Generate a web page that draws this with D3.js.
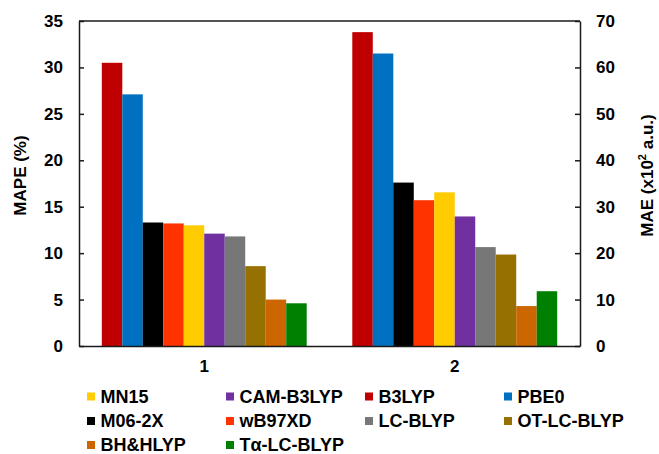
<!DOCTYPE html>
<html>
<head>
<meta charset="utf-8">
<script src="https://cdn.jsdelivr.net/npm/d3@7"></script>
<style>
  html, body { margin: 0; padding: 0; background: #fff; }
  svg text { font-family: "Liberation Sans", Arial, sans-serif; font-weight: bold; fill: #000; }
</style>
</head>
<body>
<svg id="chart" width="659" height="454"></svg>
<script>
// Functionals in bar order within each group
const methods = ["B3LYP", "PBE0", "M06-2X", "wB97XD", "MN15", "CAM-B3LYP", "LC-BLYP", "OT-LC-BLYP", "BH&HLYP", "Tα-LC-BLYP"];
const colors  = ["#C00000", "#0070C0", "#000000", "#FF3300", "#FFCC00", "#7030A0", "#777777", "#967000", "#CC6600", "#008000"];
// Group 1: MAPE (%) on the left axis; group 2: MAE (x10^2 a.u.) on the right axis
const groups = ["1", "2"];
const mape = [30.5, 27.1, 13.3, 13.2, 13.0, 12.1, 11.8, 8.6, 5.0, 4.6];
const mae  = [67.6, 63.0, 35.2, 31.4, 33.1, 27.9, 21.3, 19.7, 8.6, 11.8];
const leftTicks  = [0, 5, 10, 15, 20, 25, 30, 35];
const rightTicks = [0, 10, 20, 30, 40, 50, 60, 70];
// Legend order
const legendOrder = ["MN15", "CAM-B3LYP", "B3LYP", "PBE0", "M06-2X", "wB97XD", "LC-BLYP", "OT-LC-BLYP", "BH&HLYP", "Tα-LC-BLYP"];

const svg = d3.select("#chart");
const plot = { left: 79, right: 580, top: 21, bottom: 346 };

const x0 = d3.scaleBand().domain(groups).range([plot.left, plot.right]).padding(0);
const clusterFrac = 0.818;
const x1 = d3.scaleBand().domain(methods).range([0, x0.bandwidth() * clusterFrac]).padding(0);
const yL = d3.scaleLinear().domain([0, 35]).range([plot.bottom, plot.top]);
const yR = d3.scaleLinear().domain([0, 70]).range([plot.bottom, plot.top]);

const series = [
  { group: "1", values: mape, y: yL },
  { group: "2", values: mae,  y: yR }
];

// Bars
series.forEach(s => {
  const off = x0(s.group) + (x0.bandwidth() * (1 - clusterFrac)) / 2;
  svg.append("g").selectAll("rect")
    .data(methods.map((m, i) => ({ m, v: s.values[i], c: colors[i] })))
    .join("rect")
    .attr("x", d => off + x1(d.m))
    .attr("y", d => s.y(d.v))
    .attr("width", x1.bandwidth())
    .attr("height", d => s.y(0) - s.y(d.v))
    .attr("fill", d => d.c);
});

// Frame
const frame = svg.append("g").attr("stroke", "#1a1a1a").attr("stroke-width", 1.5).attr("fill", "none");
frame.append("line").attr("x1", plot.left).attr("x2", plot.right).attr("y1", plot.top).attr("y2", plot.top);

// Left axis (ticks inside)
const axL = svg.append("g").attr("transform", `translate(${plot.left},0)`)
  .call(d3.axisLeft(yL).tickValues(leftTicks).tickSizeInner(-5).tickSizeOuter(0).tickPadding(16));
// Right axis (ticks inside)
const axR = svg.append("g").attr("transform", `translate(${plot.right},0)`)
  .call(d3.axisRight(yR).tickValues(rightTicks).tickSizeInner(-5).tickSizeOuter(0).tickPadding(16));
// Bottom axis
const axB = svg.append("g").attr("transform", `translate(0,${plot.bottom})`)
  .call(d3.axisBottom(x0).tickSize(0).tickPadding(14));

[axL, axR, axB].forEach(a => {
  a.selectAll(".domain, .tick line").attr("stroke", "#1a1a1a").attr("stroke-width", 1.5);
  a.selectAll("text").attr("font-size", 17).attr("font-weight", "bold")
    .attr("font-family", "'Liberation Sans', Arial, sans-serif").attr("fill", "#000");
});
axB.selectAll("text").attr("dy", "0.71em");

// Axis titles
svg.append("text")
  .attr("transform", `translate(26,${(plot.top + plot.bottom) / 2 - 8}) rotate(-90)`)
  .attr("text-anchor", "middle").attr("font-size", 17)
  .text("MAPE (%)");

const rt = svg.append("text")
  .attr("transform", `translate(653,${(plot.top + plot.bottom) / 2 - 8}) rotate(-90)`)
  .attr("text-anchor", "middle").attr("font-size", 17);
rt.append("tspan").text("MAE (x10");
rt.append("tspan").attr("font-size", 11).attr("dy", -7).text("2");
rt.append("tspan").attr("dy", 7).text(" a.u.)");

// Legend
const colX = [87, 226, 365, 504];
const rowY = [396.5, 421, 445];
const leg = svg.append("g");
legendOrder.forEach((name, i) => {
  const col = i % 4, row = Math.floor(i / 4);
  const c = colors[methods.indexOf(name)];
  const gx = colX[col], gy = rowY[row];
  leg.append("rect").attr("x", gx).attr("y", gy - 4).attr("width", 8).attr("height", 8).attr("fill", c);
  leg.append("text").attr("x", gx + 13.5).attr("y", gy).attr("dy", "0.36em")
    .attr("font-size", 18).text(name);
});
</script>
</body>
</html>
